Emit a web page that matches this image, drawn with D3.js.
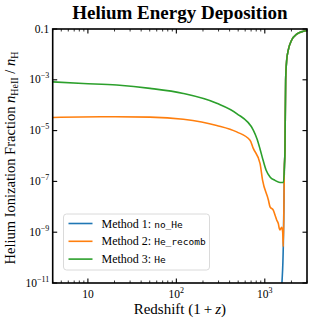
<!DOCTYPE html>
<html lang="en">
<head>
<meta charset="UTF-8">
<title>Helium Energy Deposition</title>
<script src="https://d3js.org/d3.v7.min.js"></script>
<style>
  body { margin: 0; background: #fff; }
  text { font-family: "Liberation Serif", "DejaVu Serif", serif; fill: #000; }
  .mono { font-family: "DejaVu Sans Mono", monospace; }
</style>
</head>
<body>
<script>
  // tick values
  const xTicks = [10, 100, 1000];
  const yTicks = [1e-11, 1e-9, 1e-7, 1e-5, 1e-3, 1e-1];

  // Method 1: no_He (only shows up near the helium recombination edge)
  const zNoHe = [1500, 1551, 1618, 1648, 1661, 1690, 1721, 1769, 1845, 2015, 2295, 2725, 3000];
  const fNoHe = [1e-13, 5.2e-12, 2.7e-10, 1.9e-8, 2.8e-7, 1.7e-6, 9.8e-4, 6.0e-3, 1.5e-2, 3.7e-2, 6.3e-2, 8.1e-2, 8.7e-2];

  // Method 2: He_recomb
  const zRecomb = [4, 14, 50.4, 120, 286, 481, 681, 741, 883, 942, 1096, 1146, 1247, 1304, 1362, 1421, 1459, 1485, 1551, 1593, 1618, 1648, 1661, 1690, 1721, 1769, 1845, 2015, 2295, 2725, 3000];
  const fRecomb = [3.3e-5, 3.5e-5, 3.4e-5, 2.8e-5, 1.6e-5, 8.9e-6, 4.2e-6, 2.0e-6, 5.1e-7, 1.15e-7, 1.9e-8, 1.0e-8, 7.4e-9, 4.8e-9, 3.0e-9, 2.2e-9, 1.4e-9, 1.23e-9, 1.55e-9, 1.02e-9, 2.7e-10, 1.9e-8, 2.8e-7, 1.7e-6, 9.8e-4, 6.0e-3, 1.5e-2, 3.7e-2, 6.3e-2, 8.1e-2, 8.7e-2];

  // Method 3: He
  const zHe = [4, 8.87, 21.2, 50.4, 120, 286, 481, 741, 817, 883, 955, 1033, 1146, 1304, 1485, 1626, 1661, 1690, 1721, 1769, 1845, 2015, 2295, 2725, 3000];
  const fHe = [8.3e-4, 7.2e-4, 6.2e-4, 4.6e-4, 2.9e-4, 1.2e-4, 4.7e-5, 1.05e-5, 4.7e-6, 1.9e-6, 6.9e-7, 2.8e-7, 1.5e-7, 1.1e-7, 9.1e-8, 9.1e-8, 2.8e-7, 1.7e-6, 9.8e-4, 6.0e-3, 1.5e-2, 3.7e-2, 6.3e-2, 8.1e-2, 8.7e-2];

  const series = [
    { code: "no_He", label: "Method 1: ", z: zNoHe, f: fNoHe, color: "#1f77b4" },
    { code: "He_recomb", label: "Method 2: ", z: zRecomb, f: fRecomb, color: "#ff7f0e" },
    { code: "He", label: "Method 3: ", z: zHe, f: fHe, color: "#2ca02c" }
  ];

  const width = 312, height = 322;
  const margin = { top: 29, right: 5, bottom: 39, left: 52.7 };

  const svg = d3.select("body").append("svg")
    .attr("width", width)
    .attr("height", height);

  const x = d3.scaleLog().domain([4, 3000]).range([margin.left, width - margin.right]);
  const y = d3.scaleLog().domain([1e-11, 1e-1]).range([height - margin.bottom, margin.top]);

  const x0 = x.range()[0], x1 = x.range()[1];
  const y0 = y.range()[0], y1 = y.range()[1];

  svg.append("clipPath").attr("id", "clip")
    .append("rect")
    .attr("x", x0).attr("y", y1)
    .attr("width", x1 - x0).attr("height", y0 - y1);

  // curves
  const line = d3.line()
    .x(d => x(d[0]))
    .y(d => y(d[1]))
    .curve(d3.curveMonotoneX);

  const plot = svg.append("g").attr("clip-path", "url(#clip)");
  series.forEach(s => {
    plot.append("path")
      .datum(d3.zip(s.z, s.f))
      .attr("d", line)
      .attr("fill", "none")
      .attr("stroke", s.color)
      .attr("stroke-width", 1.6);
  });

  // minor ticks on x
  const xMinor = [];
  for (let d = 1; d <= 1000; d *= 10) {
    for (let k = 2; k <= 9; k++) {
      const v = k * d;
      if (v >= 4 && v <= 3000) xMinor.push(v);
    }
  }

  const supNum = e => "\u2212" + Math.abs(e);

  function powLabel(sel, v) {
    const e = Math.round(Math.log10(v));
    sel.text(null);
    if (v === 0.1) { sel.text("0.1"); return; }
    if (e === 1) { sel.text("10"); return; }
    sel.append("tspan").text("10");
    sel.append("tspan")
      .attr("dy", -5)
      .attr("font-size", "8px")
      .text(e < 0 ? supNum(e) : e);
  }

  const axes = svg.append("g").attr("stroke", "#000");

  // bottom & top ticks
  [[y0, -1], [y1, 1]].forEach(([yy, dir]) => {
    axes.selectAll(null).data(xTicks).join("line")
      .attr("x1", d => x(d)).attr("x2", d => x(d))
      .attr("y1", yy).attr("y2", yy + dir * 4.5)
      .attr("stroke-width", 1.1);
    axes.selectAll(null).data(xMinor).join("line")
      .attr("x1", d => x(d)).attr("x2", d => x(d))
      .attr("y1", yy).attr("y2", yy + dir * 2.5)
      .attr("stroke-width", 0.8);
  });

  // left & right ticks
  [[x0, 1], [x1, -1]].forEach(([xx, dir]) => {
    axes.selectAll(null).data(yTicks).join("line")
      .attr("x1", xx).attr("x2", xx + dir * 4.5)
      .attr("y1", d => y(d)).attr("y2", d => y(d))
      .attr("stroke-width", 1.1);
  });

  // frame
  svg.append("rect")
    .attr("x", x0).attr("y", y1)
    .attr("width", x1 - x0).attr("height", y0 - y1)
    .attr("fill", "none")
    .attr("stroke", "#000")
    .attr("stroke-width", 1.6);

  // tick labels
  svg.append("g").selectAll("text").data(xTicks).join("text")
    .attr("x", d => x(d))
    .attr("y", y0 + 15)
    .attr("text-anchor", "middle")
    .attr("font-size", "11.5px")
    .each(function (d) { powLabel(d3.select(this), d); });

  svg.append("g").selectAll("text").data(yTicks).join("text")
    .attr("x", x0 - 3.5)
    .attr("y", d => y(d) + 3.5)
    .attr("text-anchor", "end")
    .attr("font-size", "11.5px")
    .each(function (d) { powLabel(d3.select(this), d); });

  // title
  svg.append("text")
    .attr("x", (x0 + x1) / 2)
    .attr("y", 18.5)
    .attr("text-anchor", "middle")
    .attr("font-size", "19px")
    .attr("font-weight", "bold")
    .text("Helium Energy Deposition");

  // x label
  const xl = svg.append("text")
    .attr("x", (x0 + x1) / 2)
    .attr("y", 314)
    .attr("text-anchor", "middle")
    .attr("font-size", "15px");
  xl.append("tspan").text("Redshift (1\u2009+\u2009");
  xl.append("tspan").attr("font-style", "italic").text("z");
  xl.append("tspan").text(")");

  // y label
  const yl = svg.append("text")
    .attr("transform", `translate(15,${(y0 + y1) / 2 + 2}) rotate(-90)`)
    .attr("text-anchor", "middle")
    .attr("font-size", "14.5px");
  yl.append("tspan").text("Helium Ionization Fraction ");
  yl.append("tspan").attr("font-style", "italic").text("n");
  yl.append("tspan").attr("dy", 3).attr("font-size", "10px").text("HeII");
  yl.append("tspan").attr("dy", -3).text(" / ");
  yl.append("tspan").attr("font-style", "italic").text("n");
  yl.append("tspan").attr("dy", 3).attr("font-size", "10px").text("H");

  // legend
  const lg = svg.append("g").attr("transform", "translate(63.5,214)");
  lg.append("rect")
    .attr("width", 146).attr("height", 56)
    .attr("rx", 3)
    .attr("fill", "#fff").attr("fill-opacity", 0.8)
    .attr("stroke", "#d0d0d0").attr("stroke-width", 0.8);

  const items = lg.selectAll("g.item").data(series).join("g")
    .attr("class", "item")
    .attr("transform", (d, i) => `translate(0,${9.5 + i * 17.8})`);
  items.append("line")
    .attr("x1", 5).attr("x2", 29)
    .attr("stroke", d => d.color)
    .attr("stroke-width", 1.6);
  const lt = items.append("text")
    .attr("x", 38)
    .attr("y", 4)
    .attr("font-size", "12px");
  lt.append("tspan").text(d => d.label);
  lt.append("tspan").attr("class", "mono").attr("font-size", "9.5px").text(d => d.code);
</script>
</body>
</html>
